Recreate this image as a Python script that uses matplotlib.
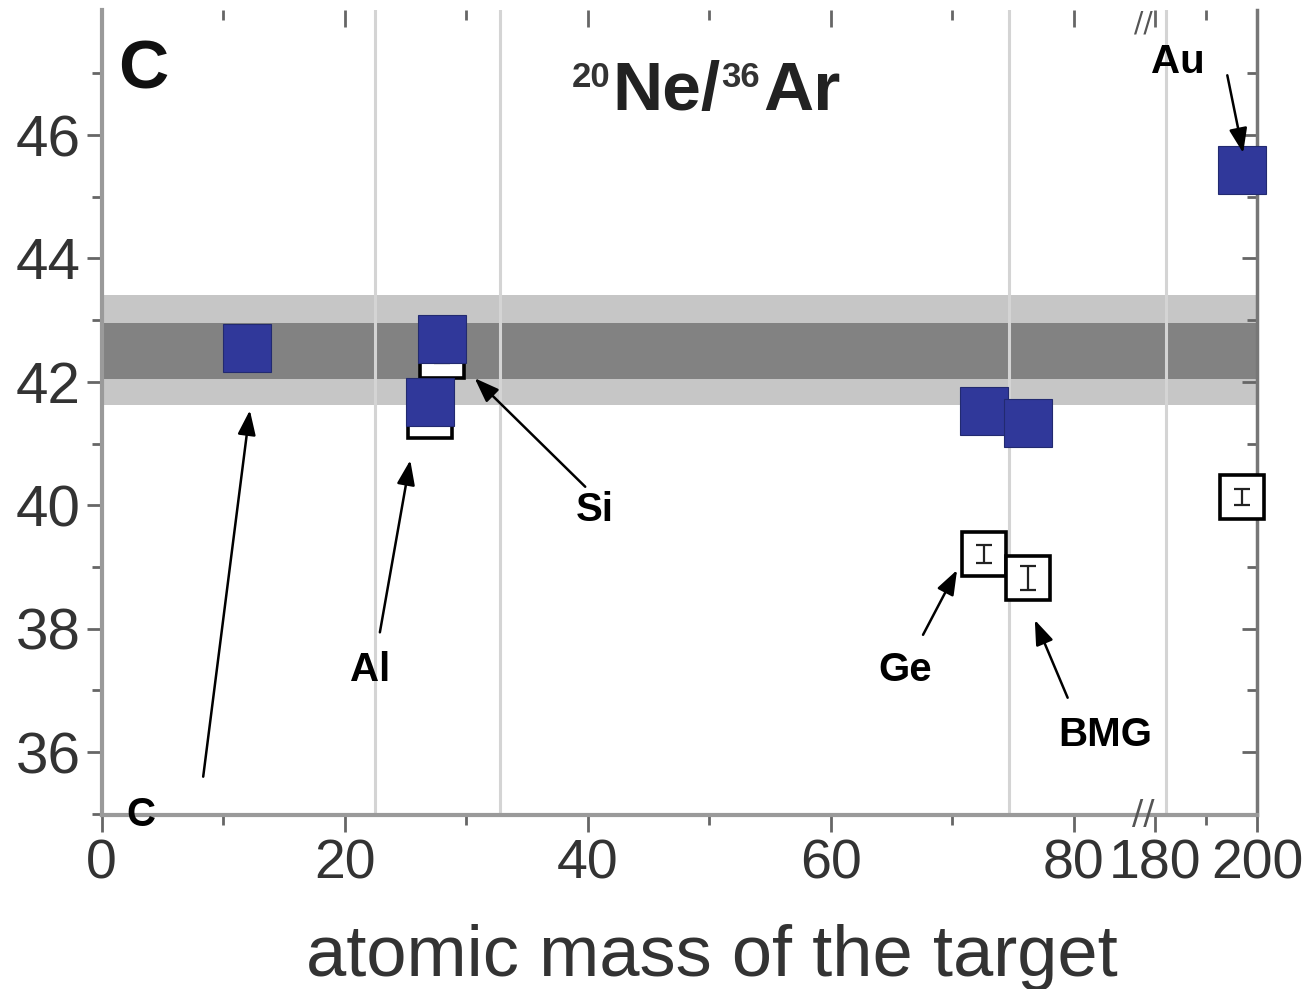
import numpy as np
import matplotlib
matplotlib.use("Agg")
import matplotlib.pyplot as plt
from matplotlib.ticker import FixedLocator

plt.rcParams['font.family'] = ['Liberation Sans', 'DejaVu Sans']

# measured values (blue filled squares and open squares)
mass_filled = [12, 27, 28, 72.6, 76.2, 197]
ratio_filled = [42.55, 41.67, 42.70, 41.52, 41.33, 45.43]
mass_open = [27, 28, 72.6, 76.2, 197]
ratio_open = [41.45, 42.42, 39.21, 38.82, 40.13]
err_open = [0.12, 0.12, 0.14, 0.2, 0.13]

# reference bands (inner / outer)
band_inner = (42.05, 42.95)
band_outer = (41.62, 43.41)

guide_x = [22.5, 32.8, 74.7, 182.1]

xticks_major = [0, 20, 40, 60, 80, 180, 200]
xticks_minor = [10, 30, 50, 70, 190]
yticks_major = [36, 38, 40, 42, 44, 46]
yticks_minor = [35, 37, 39, 41, 43, 45, 47]

# broken x axis: 0..85.5 normal, 177.1..200 compressed
brk_lo, brk_hi, k = 85.5, 177.1, 0.42


def fwd(x):
    x = np.asarray(x, dtype=float)
    return np.where(x <= brk_lo, x,
                    np.where(x >= brk_hi, brk_lo + (x - brk_hi) * k, brk_lo))


def inv(u):
    u = np.asarray(u, dtype=float)
    return np.where(u <= brk_lo, u, brk_hi + (u - brk_lo) / k)


fig = plt.figure(figsize=(13.06, 9.89), dpi=100)
ax = fig.add_axes([0.0778, 0.176, 0.885, 0.814])
ax.set_xscale('function', functions=(fwd, inv))
ax.set_xlim(0, 200)
ax.set_ylim(34.98, 48.03)

ax.axhspan(*band_outer, color='#c6c6c6', zorder=1, lw=0)
ax.axhspan(*band_inner, color='#828282', zorder=1.1, lw=0)
for gx in guide_x:
    ax.axvline(gx, color='#d4d4d4', lw=2.2, zorder=1.5)

ax.plot(mass_open, ratio_open, 's', ms=32, mfc='white', mec='black', mew=2.6,
        zorder=3, clip_on=False)
ax.errorbar(mass_open, ratio_open, yerr=err_open, fmt='none', ecolor='#222222',
            elinewidth=1.6, capsize=6, capthick=1.6, zorder=3.5, clip_on=False)
ax.plot(mass_filled, ratio_filled, 's', ms=35, mfc='#30389a', mec='#222a70', mew=0.8,
        zorder=4, clip_on=False)

# axes styling
ax.spines['top'].set_visible(False)
for s in ['left', 'bottom']:
    ax.spines[s].set_color('#9a9a9a')
    ax.spines[s].set_linewidth(3)
ax.spines['right'].set_color('#777777')
ax.spines['right'].set_linewidth(2.5)

ax.xaxis.set_major_locator(FixedLocator(xticks_major))
ax.xaxis.set_minor_locator(FixedLocator(xticks_minor))
ax.set_xticklabels([str(t) for t in xticks_major])
ax.yaxis.set_major_locator(FixedLocator(yticks_major))
ax.yaxis.set_minor_locator(FixedLocator(yticks_minor))
ax.set_yticklabels([str(t) for t in yticks_major])

ax.tick_params(axis='x', which='major', direction='out', length=12, width=2, color='#666666',
               labelsize=40, labelcolor='#333333', pad=5, top=True)
ax.tick_params(axis='x', which='minor', direction='out', length=7, width=2, color='#666666', top=True)
ax.tick_params(axis='y', which='major', direction='out', length=11, width=2, color='#666666',
               labelsize=42, labelcolor='#333333', pad=4, right=True)
ax.tick_params(axis='y', which='minor', direction='out', length=7, width=2, color='#666666', right=True)
# top and right ticks point inward
for t in ax.xaxis.get_major_ticks() + ax.xaxis.get_minor_ticks():
    t.tick2line.set_marker(3)
for t in ax.yaxis.get_major_ticks() + ax.yaxis.get_minor_ticks():
    t.tick2line.set_marker(0)

ax.set_xlabel('atomic mass of the target', fontsize=52, color='#333333')
ax.xaxis.label.set_va('baseline')
ax.xaxis.set_label_coords(0.528, -0.2)

# break marks
ax.text(177.6, 34.98, '//', ha='center', va='center', fontsize=24, color='#555555',
        family=['DejaVu Sans'], zorder=6, clip_on=False)
ax.text(177.6, 48.03, '//', ha='center', va='top', fontsize=20, color='#555555',
        family=['DejaVu Sans'], zorder=6, clip_on=False)

# panel label
ax.text(0.014, 0.925, 'C', transform=ax.transAxes, ha='left', va='center',
        fontsize=50, fontweight='bold', color='#111111')

# title 20Ne/36Ar with small superscripts
ne = fig.text(612 / 1306, 1 - 110 / 989, 'Ne/', ha='left', va='baseline',
              fontsize=50, fontweight='bold', color='#222222')
sup_kw = dict(fontsize=25, fontweight='bold', color='#333333')
ax.annotate('20', xy=(0, 1), xycoords=ne, xytext=(-1, -1), textcoords='offset points',
            ha='right', va='top', **sup_kw)
s36 = ax.annotate('36', xy=(1, 1), xycoords=ne, xytext=(1, -1), textcoords='offset points',
                  ha='left', va='top', **sup_kw)
ax.annotate('Ar', xy=(1, 0), xycoords=(s36, ne), xytext=(2, 0), textcoords='offset points',
            ha='left', va='bottom', fontsize=50, fontweight='bold', color='#222222')

# element labels with arrows: (label, text pos, arrow tail, arrow tip)
notes = [
    ('Au', (184.5, 47.18), (194.1, 46.97), (197.2, 45.71)),
    ('Si', (40.6, 39.92), (39.8, 40.30), (30.7, 42.06)),
    ('Al', (22.1, 37.33), (22.9, 37.94), (25.4, 40.73)),
    ('C', (3.2, 34.98), (8.36, 35.6), (12.2, 41.54)),
    ('Ge', (66.1, 37.33), (67.6, 37.90), (70.4, 38.95)),
    ('BMG', (82.6, 36.28), (79.5, 36.88), (76.8, 38.14)),
]
for lab, tp, tail, tip in notes:
    ax.annotate('', xy=tip, xytext=tail,
                arrowprops=dict(arrowstyle='-|>,head_length=0.6,head_width=0.22',
                                color='black', lw=1.8, mutation_scale=25,
                                shrinkA=0, shrinkB=0), zorder=7)
    ax.text(tp[0], tp[1], lab, ha='center', va='center', fontsize=29, fontweight='bold',
            color='black', zorder=7)

fig.savefig('out.png', dpi=100)
